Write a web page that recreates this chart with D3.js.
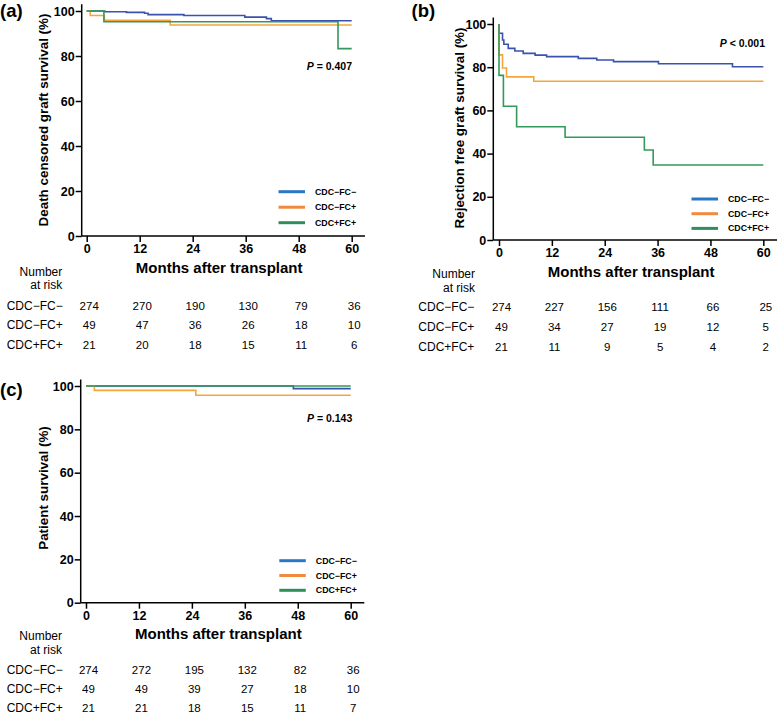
<!DOCTYPE html>
<html>
<head>
<meta charset="utf-8">
<script src="https://cdn.jsdelivr.net/npm/d3@7"></script>
<style>
  html, body { margin: 0; padding: 0; background: #fff; }
  svg { display: block; font-family: "Liberation Sans", Arial, Helvetica, sans-serif; }
</style>
</head>
<body>
<svg id="chart" width="778" height="714"></svg>
<script>
// ---------------- DATA ----------------
const groups = ["CDC\u2212FC\u2212", "CDC\u2212FC+", "CDC+FC+"];
const monthTicks = [0, 12, 24, 36, 48, 60];
const yTicks = [0, 20, 40, 60, 80, 100];

// (a) Death censored graft survival
const aBlueT   = [0, 4.1, 9.0, 13.1, 13.9, 22.0, 35.8, 40.7, 41.8, 60];
const aBlueS   = [100, 99.7, 99.4, 99.0, 98.4, 98.0, 97.3, 96.6, 95.7, 95.7];
const aOrangeT = [0, 0.8, 4.0, 18.9, 60];
const aOrangeS = [100, 98.0, 95.9, 93.8, 93.8];
const aGreenT  = [0, 3.9, 56.9, 60];
const aGreenS  = [100, 95.2, 83.3, 83.3];
const aRisk = [[274, 270, 190, 130, 79, 36], [49, 47, 36, 26, 18, 10], [21, 20, 18, 15, 11, 6]];

// (b) Rejection free graft survival
const bBlueT   = [0, 0, 0.8, 1.1, 2.1, 3.6, 5.5, 8.2, 10.8, 18.0, 22.2, 26.0, 36.2, 53.0, 60];
const bBlueS   = [100, 95.7, 92.6, 90.6, 88.7, 87.5, 86.4, 85.6, 84.9, 84.1, 83.3, 82.6, 81.6, 80.2, 80.2];
const bOrangeT = [0, 0, 0.8, 1.7, 7.9, 60];
const bOrangeS = [100, 85.7, 79.6, 75.5, 73.5, 73.5];
const bGreenT  = [0, 0, 1.0, 4.0, 15.0, 33.0, 35.0, 60];
const bGreenS  = [100, 76.2, 61.9, 52.4, 47.6, 41.7, 34.7, 34.7];
const bRisk = [[274, 227, 156, 111, 66, 25], [49, 34, 27, 19, 12, 5], [21, 11, 9, 5, 4, 2]];

// (c) Patient survival
const cBlueT   = [0, 47.0, 60];
const cBlueS   = [100, 98.8, 98.8];
const cOrangeT = [0, 1.9, 24.9, 60];
const cOrangeS = [100, 98.0, 95.7, 95.7];
const cGreenT  = [0, 60];
const cGreenS  = [100, 100];
const cRisk = [[274, 272, 195, 132, 82, 36], [49, 49, 39, 27, 18, 10], [21, 21, 18, 15, 11, 7]];

const pTexts = ["= 0.407", "< 0.001", "= 0.143"];
const yLabels = ["Death censored graft survival (%)", "Rejection free graft survival (%)", "Patient survival (%)"];
const panelLetters = ["(a)", "(b)", "(c)"];

// ---------------- STYLE / LAYOUT ----------------
const curveColors = ["#3b52ad", "#f5a53c", "#33995a"];
const legendColors = ["#2a77c4", "#f08a3e", "#2e8f5a"];

const zip = (t, s) => t.map((v, i) => ({ t: v, s: s[i] }));

const panels = [
  { letter: panelLetters[0], ylab: yLabels[0], p: pTexts[0], risk: aRisk,
    series: [zip(aBlueT, aBlueS), zip(aOrangeT, aOrangeS), zip(aGreenT, aGreenS)],
    x0: 86.7, x1: 351.7, yb: 236, yt: 11, axX: 81.7, axR: 365, letterX: 0, letterY: 16.5,
    ylabX: 43, ylabY: 120, pY: 66, pX: 352, legY: 191.7, legGap: 15.5, legX: 278.5,
    xlabY: 267.5, numY: 271.5, riskY: 305.5, riskGap: 19.9, rowLabX: 6.7, numRight: 62.3 },
  { letter: panelLetters[1], ylab: yLabels[1], p: pTexts[1], risk: bRisk,
    series: [zip(bBlueT, bBlueS), zip(bOrangeT, bOrangeS), zip(bGreenT, bGreenS)],
    x0: 499, x1: 763.3, yb: 240, yt: 24, axX: 493.3, axR: 777, letterX: 411.5, letterY: 16.5,
    ylabX: 459, ylabY: 128, pY: 43, pX: 765, legY: 199, legGap: 14.7, legX: 691.5,
    xlabY: 271, numY: 274, riskY: 307.3, riskGap: 19.7, rowLabX: 418.3, numRight: 475 },
  { letter: panelLetters[2], ylab: yLabels[2], p: pTexts[2], risk: cRisk,
    series: [zip(cBlueT, cBlueS), zip(cOrangeT, cOrangeS), zip(cGreenT, cGreenS)],
    x0: 86, x1: 350.7, yb: 602.7, yt: 386, axX: 80.7, axR: 364.3, letterX: 0, letterY: 396,
    ylabX: 43.3, ylabY: 488, pY: 417.7, pX: 352.3, legY: 560.7, legGap: 14.8, legX: 279.3,
    xlabY: 633.3, numY: 636, riskY: 669.5, riskGap: 19.0, rowLabX: 6.7, numRight: 62 }
];

const svg = d3.select("#chart");

panels.forEach(P => {
  const g = svg.append("g");
  const x = d3.scaleLinear().domain([0, 60]).range([P.x0, P.x1]);
  const y = d3.scaleLinear().domain([0, 100]).range([P.yb, P.yt]);

  // axis lines
  g.append("line").attr("x1", P.axX).attr("x2", P.axX)
    .attr("y1", y(103)).attr("y2", P.yb)
    .attr("stroke", "#000").attr("stroke-width", 1.5);
  g.append("line").attr("x1", P.axX).attr("x2", P.axR)
    .attr("y1", P.yb).attr("y2", P.yb)
    .attr("stroke", "#000").attr("stroke-width", 1.5);

  // y axis ticks
  const ya = g.append("g").attr("transform", `translate(${P.axX},0)`)
    .call(d3.axisLeft(y).tickValues(yTicks).tickSize(6).tickPadding(1).tickSizeOuter(0));
  ya.select(".domain").remove();
  ya.selectAll("line").attr("stroke", "#000").attr("stroke-width", 1.5);
  ya.selectAll("text").attr("font-size", 12.5).attr("font-weight", "bold")
    .attr("font-family", "'Liberation Sans', Arial, sans-serif").attr("fill", "#000");

  // x axis ticks
  const xa = g.append("g").attr("transform", `translate(0,${P.yb})`)
    .call(d3.axisBottom(x).tickValues(monthTicks).tickSize(6).tickPadding(2).tickSizeOuter(0));
  xa.select(".domain").remove();
  xa.selectAll("line").attr("stroke", "#000").attr("stroke-width", 1.5);
  xa.selectAll("text").attr("font-size", 12.5).attr("font-weight", "bold")
    .attr("font-family", "'Liberation Sans', Arial, sans-serif").attr("fill", "#000");

  // curves
  const line = d3.line().x(d => x(d.t)).y(d => y(d.s)).curve(d3.curveStepAfter);
  P.series.forEach((s, i) => {
    g.append("path").datum(s).attr("d", line)
      .attr("fill", "none").attr("stroke", curveColors[i]).attr("stroke-width", 1.6);
  });

  // panel letter
  g.append("text").attr("x", P.letterX).attr("y", P.letterY)
    .attr("font-size", 18.5).attr("font-weight", "bold").text(P.letter);

  // y label
  g.append("text")
    .attr("transform", `translate(${P.ylabX},${P.ylabY}) rotate(-90)`)
    .attr("text-anchor", "middle").attr("dominant-baseline", "central")
    .attr("font-size", 13.4).attr("font-weight", "bold").text(P.ylab);

  // x label
  g.append("text").attr("x", (P.x0 + P.x1) / 2).attr("y", P.xlabY)
    .attr("text-anchor", "middle").attr("dominant-baseline", "central")
    .attr("font-size", 15).attr("font-weight", "bold").text("Months after transplant");

  // p value
  const pt = g.append("text").attr("x", P.pX).attr("y", P.pY)
    .attr("text-anchor", "end").attr("dominant-baseline", "central")
    .attr("font-size", 10.5).attr("font-weight", "bold");
  pt.append("tspan").attr("font-style", "italic").text("P");
  pt.append("tspan").text(" " + P.p);

  // legend
  groups.forEach((name, i) => {
    const ly = P.legY + i * P.legGap;
    g.append("line").attr("x1", P.legX).attr("x2", P.legX + 26.5)
      .attr("y1", ly).attr("y2", ly)
      .attr("stroke", legendColors[i]).attr("stroke-width", 3);
    g.append("text").attr("x", P.legX + 36.5).attr("y", ly)
      .attr("dominant-baseline", "central")
      .attr("font-size", 8.8).attr("font-weight", "bold").text(name);
  });

  // number at risk
  g.append("text").attr("x", P.numRight).attr("y", P.numY)
    .attr("text-anchor", "end").attr("dominant-baseline", "central")
    .attr("font-size", 12).text("Number");
  g.append("text").attr("x", P.numRight).attr("y", P.numY + 13.7)
    .attr("text-anchor", "end").attr("dominant-baseline", "central")
    .attr("font-size", 12).text("at risk");

  groups.forEach((name, i) => {
    const ry = P.riskY + i * P.riskGap;
    g.append("text").attr("x", P.rowLabX).attr("y", ry)
      .attr("dominant-baseline", "central").attr("font-size", 12).text(name);
    P.risk[i].forEach((v, j) => {
      g.append("text").attr("x", x(monthTicks[j]) + 2.5).attr("y", ry)
        .attr("text-anchor", "middle").attr("dominant-baseline", "central")
        .attr("font-size", 11.5).text(v);
    });
  });
});
</script>
</body>
</html>
